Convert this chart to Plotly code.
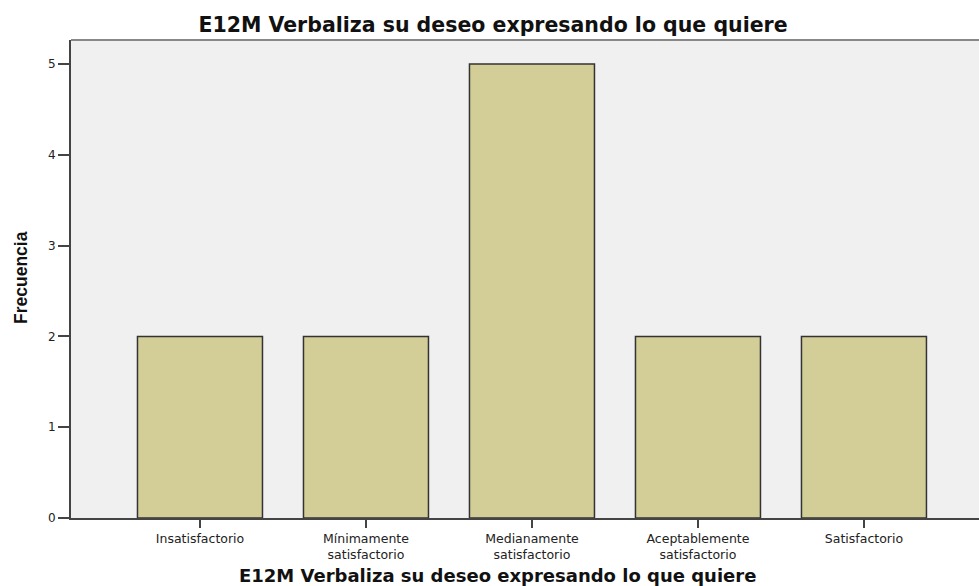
import plotly.graph_objects as go

categories = ["Insatisfactorio", "Mínimamente<br>satisfactorio", "Medianamente<br>satisfactorio",
              "Aceptablemente<br>satisfactorio", "Satisfactorio"]
frecuencia = [2, 2, 5, 2, 2]
y_ticks = [0, 1, 2, 3, 4, 5]
title_text = "E12M Verbaliza su deseo expresando lo que quiere"
x_title = "E12M Verbaliza su deseo expresando lo que quiere"
y_title = "Frecuencia"

fig = go.Figure(go.Bar(
    x=categories, y=frecuencia,
    marker=dict(color="#D3CE97", line=dict(color="#333333", width=1.5)),
))

fig.update_layout(
    width=979, height=586,
    margin=dict(l=71, r=0, t=40, b=68),
    paper_bgcolor="white", plot_bgcolor="#F0F0F0",
    bargap=0.247,
    showlegend=False,
    title=dict(text="<b>" + title_text + "</b>", xref="container", x=0.5036, xanchor="center",
               yref="container", y=1 - 25 / 586, yanchor="middle",
               font=dict(family="DejaVu Sans", size=20.5, color="#111111")),
    font=dict(family="DejaVu Sans", size=12, color="#222222"),
)

fig.update_xaxes(
    type="category", range=[-0.777, 4.693],
    showline=True, linecolor="#444444", linewidth=1.8,
    ticks="outside", ticklen=8, tickcolor="#444444", tickwidth=1.5,
    showgrid=False, zeroline=False,
    tickfont=dict(family="DejaVu Sans", size=12.5, color="#222222"),
)
fig.update_yaxes(
    range=[0, 5.264], tickvals=y_ticks,
    showline=True, linecolor="#444444", linewidth=1.8,
    ticks="outside", ticklen=11, tickcolor="#444444", tickwidth=1.5,
    showgrid=False, zeroline=False,
    tickfont=dict(family="DejaVu Sans", size=12, color="#222222"),
)

fig.add_annotation(text="<b>" + x_title + "</b>", xref="paper", yref="paper",
                   x=(497 - 71) / 908, y=0, yshift=-57, xanchor="center", yanchor="middle",
                   showarrow=False, font=dict(family="DejaVu Sans", size=18, color="#111111"))
fig.add_annotation(text="<b>" + y_title + "</b>", xref="paper", yref="paper",
                   x=(21 - 71) / 908, y=(518 - 278) / 478, xanchor="center", yanchor="middle",
                   textangle=-90, showarrow=False,
                   font=dict(family="Liberation Sans", size=17.5, color="#111111"))

fig.add_shape(type="line", xref="paper", yref="paper", x0=0, x1=1, y0=1, y1=1,
              line=dict(color="#888888", width=2))

fig.write_html("out.html", config={"displayModeBar": False},
               post_script="document.body.style.margin='0';document.body.style.overflow='hidden';")
